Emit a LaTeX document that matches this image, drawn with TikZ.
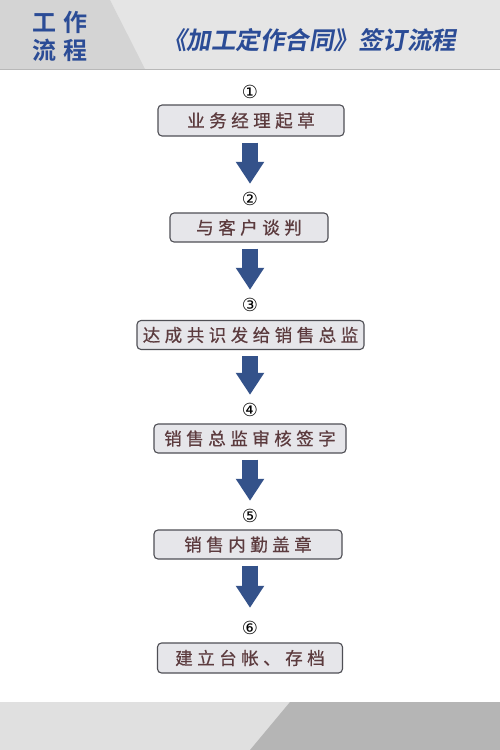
\documentclass[tikz,border=0pt]{standalone}
\usepackage{fontspec}
\usetikzlibrary{arrows.meta}
\newfontfamily\cjk[FakeBold=0.6]{Noto Sans CJK SC}
\newfontfamily\cjkbold[FakeSlant=0.18]{Noto Sans CJK SC Bold}
\newfontfamily\cjkhead{Noto Sans CJK SC Bold}
\newfontfamily\numfont{DejaVu Sans}
\newcommand\gsep{\hspace{4.5pt}}
\newcommand\hsep{\hspace{8pt}}
\definecolor{hdrblue}{HTML}{2B4C96}
\definecolor{arrowblue}{HTML}{34528A}
\definecolor{boxtext}{HTML}{5C3B3E}
\definecolor{boxline}{HTML}{4F4F55}
\definecolor{boxfill}{HTML}{E6E6EA}
\tikzset{
  stepbox/.style={draw=boxline, line width=1.1pt, rounded corners=4pt,
    fill=boxfill, inner sep=0pt, text=boxtext, font=\cjk\fontsize{17.5}{18}\selectfont},
  numlabel/.style={inner sep=0pt, minimum height=16pt, font=\numfont\fontsize{18}{18}\selectfont},
  flowarrow/.style={draw=arrowblue, line width=16pt, line cap=butt,
    -{Triangle[width=27pt,length=22pt]}, shorten <=6pt, shorten >=7pt}
}
\begin{document}
\begin{tikzpicture}[x=1pt,y=-1pt]
\useasboundingbox (0,0) rectangle (500,750);
\fill[white] (0,0) rectangle (500,750);
% header
\fill[white!90!black] (0,0) rectangle (500,69);
\fill[white!83!black] (0,0) -- (110,0) -- (145,69) -- (0,69) -- cycle;
\draw[white!72!black, line width=1pt] (0,69.5) -- (500,69.5);
\node[text=hdrblue, font=\cjkhead\fontsize{24}{24}\selectfont, inner sep=0pt] (h1) at (60,22) {工\hsep 作};
\node[text=hdrblue, font=\cjkhead\fontsize{24}{24}\selectfont, inner sep=0pt] (h2) at (60,50) {流\hsep 程};
\node[text=hdrblue, font=\cjkbold\fontsize{24.5}{25}\selectfont, inner sep=0pt] (title) at (309,40) {《加工定作合同》签订流程};
% footer
\fill[white!88!black] (0,702) rectangle (500,750);
\fill[white!71!black] (290,702) -- (500,702) -- (500,750) -- (250,750) -- cycle;
% steps
\node[numlabel] (n1) at (250,92) {①};
\node[stepbox, minimum width=186pt, minimum height=31pt] (b1) at (251,120.5) {业\gsep 务\gsep 经\gsep 理\gsep 起\gsep 草};
\node[numlabel] (n2) at (250,199) {②};
\node[stepbox, minimum width=158pt, minimum height=29pt] (b2) at (249,227.5) {与\gsep 客\gsep 户\gsep 谈\gsep 判};
\node[numlabel] (n3) at (250,305) {③};
\node[stepbox, minimum width=227pt, minimum height=29pt] (b3) at (250.5,335) {达\gsep 成\gsep 共\gsep 识\gsep 发\gsep 给\gsep 销\gsep 售\gsep 总\gsep 监};
\node[numlabel] (n4) at (250,410) {④};
\node[stepbox, minimum width=192pt, minimum height=29pt] (b4) at (250,438.5) {销\gsep 售\gsep 总\gsep 监\gsep 审\gsep 核\gsep 签\gsep 字};
\node[numlabel] (n5) at (250,516) {⑤};
\node[stepbox, minimum width=188pt, minimum height=29pt] (b5) at (248,544.5) {销\gsep 售\gsep 内\gsep 勤\gsep 盖\gsep 章};
\node[numlabel] (n6) at (250,628) {⑥};
\node[stepbox, minimum width=185pt, minimum height=30pt] (b6) at (250,658) {建\gsep 立\gsep 台\gsep 帐\gsep 、\gsep 存\gsep 档};
% arrows
\draw[flowarrow] (b1.south -| n2) -- (n2.north);
\draw[flowarrow] (b2.south -| n3) -- (n3.north);
\draw[flowarrow] (b3.south -| n4) -- (n4.north);
\draw[flowarrow] (b4.south -| n5) -- (n5.north);
\draw[flowarrow, shorten >=12pt] (b5.south -| n6) -- (n6.north);
\end{tikzpicture}
\end{document}
